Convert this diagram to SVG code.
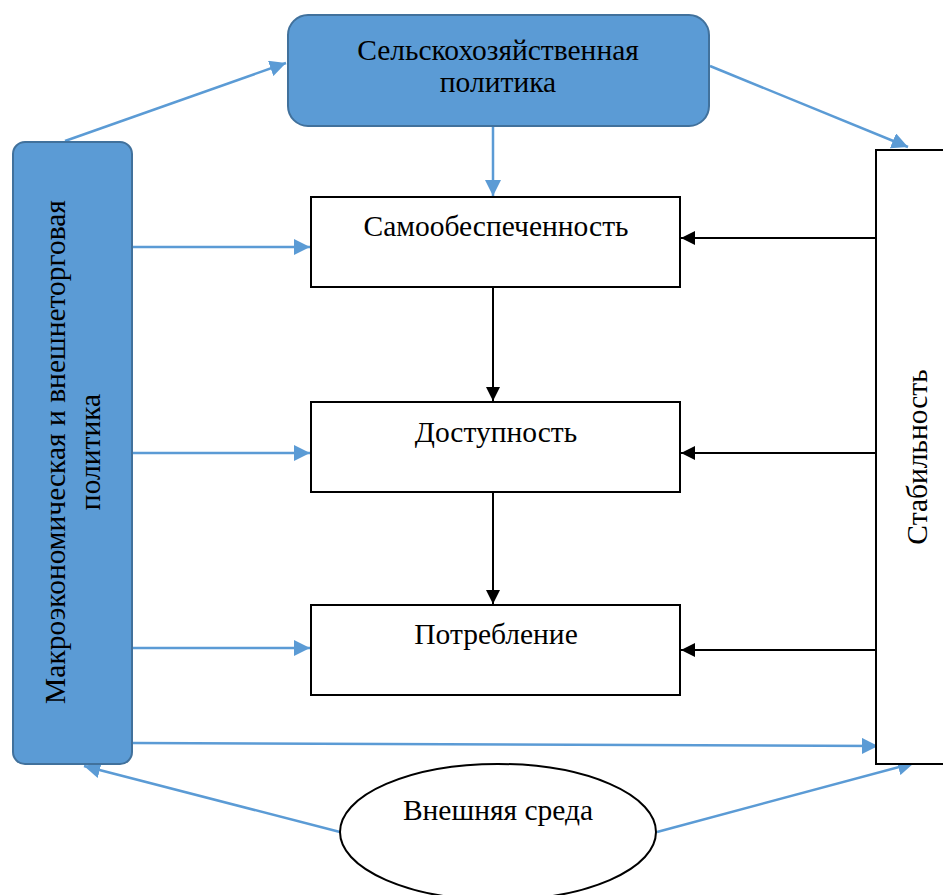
<svg xmlns="http://www.w3.org/2000/svg" width="943" height="895" viewBox="0 0 943 895">
<style>
.t{font-family:"Liberation Serif","Times New Roman",serif;font-size:29.5px;fill:#000;text-anchor:middle}
.blue{fill:#5B9BD5;stroke:#41719C;stroke-width:2}
.box{fill:#fff;stroke:#000;stroke-width:2}
.cb{stroke:#5B9BD5;stroke-width:2.5;fill:none;marker-end:url(#ab)}
.ck{stroke:#000;stroke-width:2;fill:none;marker-end:url(#ak)}
</style>
<defs>
<marker id="ab" viewBox="0 0 10 10" refX="10" refY="5" markerWidth="6.5" markerHeight="6.5" orient="auto" markerUnits="strokeWidth"><path d="M0,0L10,5L0,10z" fill="#5B9BD5"/></marker>
<marker id="ak" viewBox="0 0 10 10" refX="10" refY="5" markerWidth="7" markerHeight="7" orient="auto" markerUnits="strokeWidth"><path d="M0,0L10,5L0,10z" fill="#000"/></marker>
</defs>
<rect width="943" height="895" fill="#fff"/>
<g id="connectors">
<line class="cb" x1="65" y1="141" x2="286" y2="63"/>
<line class="cb" x1="710" y1="66" x2="908" y2="147"/>
<line class="cb" x1="493" y1="127" x2="493" y2="196"/>
<line class="cb" x1="133" y1="247" x2="310" y2="247"/>
<line class="cb" x1="133" y1="453" x2="310" y2="453"/>
<line class="cb" x1="133" y1="648" x2="310" y2="648"/>
<line class="cb" x1="133" y1="743" x2="878" y2="746"/>
<line class="cb" x1="340" y1="832" x2="84" y2="766"/>
<line class="cb" x1="657" y1="832" x2="914" y2="763"/>
<line class="ck" x1="876" y1="238" x2="681" y2="238"/>
<line class="ck" x1="876" y1="453" x2="681" y2="453"/>
<line class="ck" x1="876" y1="650" x2="681" y2="650"/>
<line class="ck" x1="493" y1="287" x2="493" y2="401"/>
<line class="ck" x1="493" y1="492" x2="493" y2="604"/>
</g>
<g id="agri">
<rect class="blue" x="288" y="15" width="421" height="111" rx="20"/>
<text class="t" x="498" y="60">Сельскохозяйственная</text>
<text class="t" x="498" y="92">политика</text>
</g>
<g id="macro">
<rect class="blue" x="13" y="142" width="119" height="622" rx="12"/>
<text class="t" transform="translate(65,452) rotate(-90)">Макроэкономическая и внешнеторговая</text>
<text class="t" transform="translate(100,452) rotate(-90)">политика</text>
</g>
<g id="stability">
<rect class="box" x="876" y="150" width="80" height="614"/>
<text class="t" transform="translate(927,457) rotate(-90)">Стабильность</text>
</g>
<g id="self">
<rect class="box" x="311" y="197" width="369" height="90"/>
<text class="t" x="496" y="236">Самообеспеченность</text>
</g>
<g id="access">
<rect class="box" x="311" y="402" width="369" height="90"/>
<text class="t" x="496" y="442">Доступность</text>
</g>
<g id="consumption">
<rect class="box" x="311" y="605" width="369" height="90"/>
<text class="t" x="496" y="644">Потребление</text>
</g>
<g id="env">
<ellipse cx="498" cy="832" rx="158" ry="68" fill="#fff" stroke="#000" stroke-width="2"/>
<text class="t" x="498" y="820">Внешняя среда</text>
</g>
</svg>
